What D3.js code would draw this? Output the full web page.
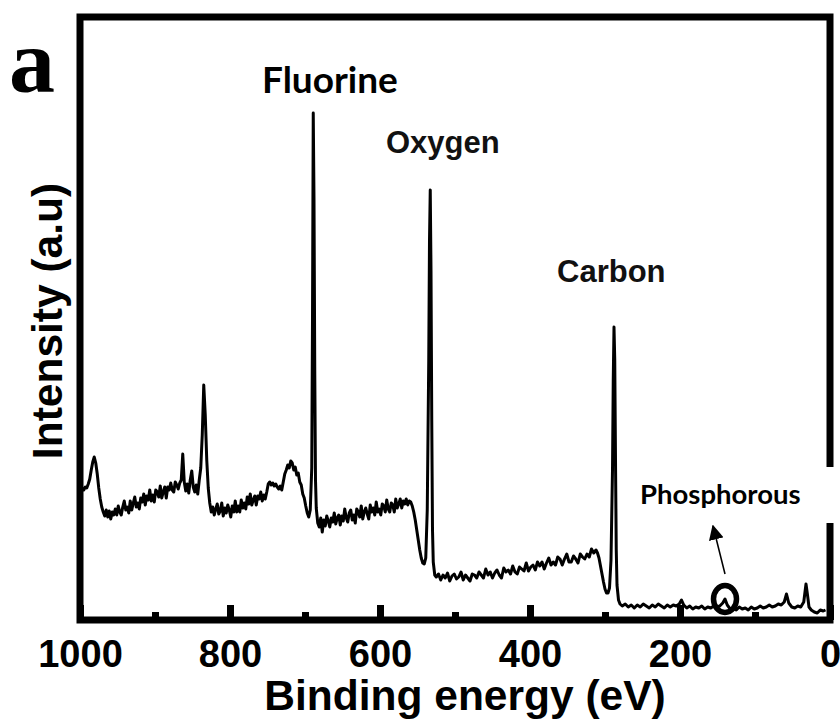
<!DOCTYPE html>
<html>
<head>
<meta charset="utf-8">
<script src="https://cdn.jsdelivr.net/npm/d3@7"></script>
<style>
  html, body { margin: 0; padding: 0; background: #fff; }
  svg { display: block; }
</style>
</head>
<body>
<svg id="chart" width="840" height="719"></svg>
<script>
// XPS survey spectrum: [binding energy (eV), intensity (a.u.)]
const spectrum = [
  [997,132],[995,130],[993,133],[991,132],[989,136],[987,141],[985,150],[983,158],[981,163],[979,157],
  [977,146],[975,132],[973,121],[971,113],[969,108],[967,104],[965,110],[963,103],[961,109],[959,101],
  [957,108],[955,105],
  [953,111],[951,105],[949,114],[947,108],[945,105],[943,113],[941,119],[939,110],[937,113],[935,107],
  [933,119],[931,110],[929,117],[927,123],[925,113],[923,117],[921,111],[919,122],[917,118],[915,126],
  [913,115],[911,124],[909,120],[907,130],[905,119],[903,125],[901,118],[899,130],[897,128],[895,123],
  [893,134],[891,122],[889,128],[887,133],[885,122],[883,133],[881,130],[879,137],[877,130],[875,128],
  [873,138],[871,135],[869,131],[867,137],[865,140],[863,166],[861,138],[859,129],
  [857,136],[855,127],[853,140],[851,149],[849,133],[847,128],[845,135],[843,126],[841,140],[839,152],
  [837,185],[835,235],[833,205],[831,160],[829,132],[827,117],[825,108],
  [823,113],[821,105],[819,111],[817,116],[815,106],[813,109],[811,117],[809,104],[807,112],[805,107],
  [803,115],[801,110],[799,103],[797,114],[795,108],[793,119],[791,108],[789,114],[787,108],[785,120],
  [783,112],[781,117],[779,111],[777,123],[775,116],[773,126],[771,115],[769,120],[767,124],[765,115],
  [763,124],[761,121],[759,128],[757,119],[755,125],[753,121],[751,128],[749,136],[747,138],[745,135],
  [743,137],[741,134],[739,136],[737,133],[735,131],[733,134],[731,130],[729,138],[727,146],[725,150],
  [723,155],[721,152],[719,159],[717,157],[715,150],[713,153],[711,145],[709,147],[707,138],[705,135],
  [703,126],[701,122],[699,114],[697,107],[695,103],[693,110],[691,152],[690,300],[689,507],[688,420],
  [687,250],[686,140],[685,112],[683,97],[681,93],
  [679,102],[677,88],[675,100],[673,94],[671,104],[669,99],[667,93],[665,102],[663,98],[661,107],
  [659,96],[657,102],[655,105],[653,95],[651,104],[649,99],[647,111],[645,102],[643,98],[641,107],
  [639,110],[637,100],[635,105],[633,97],[631,111],[629,108],[627,103],[625,114],[623,101],[621,108],
  [619,112],[617,106],[615,101],[613,115],[611,108],[609,112],[607,105],[605,118],[603,108],[601,111],
  [599,105],[597,116],[595,114],[593,108],[591,120],[589,111],[587,108],[585,117],[583,115],[581,108],
  [579,121],[577,112],[575,116],[573,121],[571,112],[569,119],[567,116],[565,121],[563,115],[561,119],
  [559,118],[557,114],[555,108],[553,100],[551,90],[549,80],[547,70],[545,62],[543,57],[541,56],
  [539,62],[537,110],[535,260],[534,380],[533,430],[532,350],[531,200],[530,90],[529,58],[527,45],
  [525,43],[522,46],[519,40],[516,45],[513,42],[510,47],[507,39],[504,44],[501,46],[498,41],
  [495,43],[492,48],[489,40],[486,45],[483,42],[480,39],[477,46],[474,45],[471,42],[468,48],
  [465,45],[462,42],[459,51],[456,45],[453,48],[450,42],[447,47],[444,50],[441,45],[438,42],
  [435,52],[432,48],[429,50],[426,46],[423,54],[420,48],[417,46],[414,53],[411,51],[408,49],
  [405,57],[402,49],[399,53],[396,55],[393,50],[390,58],[387,54],[384,58],[381,51],[378,57],
  [375,62],[372,55],[369,58],[366,55],[363,63],[360,61],[357,55],[354,61],[351,66],[348,58],
  [345,58],[342,64],[339,61],[336,57],[333,66],[330,63],[327,61],[324,66],[321,63],[318,71],
  [315,67],[312,70],[310,67],[308,62],[306,54],[304,46],[302,38],[300,31],[298,27],[296,27],
  [294,32],[292,60],[290,150],[289,240],[288,293],[287,260],[286,160],[285,70],[284,35],[282,20],
  [280,16],
  [277,14],[273,16],[269,13],[265,15],[261,12],[257,15],[253,13],[249,16],[245,14],[241,12],
  [237,15],[233,13],[229,16],[225,14],[221,12],[217,15],[213,13],[209,15],[205,14],[201,16],
  [198,20],[195,15],[191,12],[187,14],[183,11],[179,13],[175,12],[171,14],[167,11],[163,13],
  [159,12],[155,14],[151,13],[147,14],[143,17],[140,21],[137,15],[133,11],[129,12],[125,10],
  [121,13],[117,11],[113,12],[109,10],[105,13],[101,11],[97,12],[93,14],[89,12],[85,13],
  [81,15],[77,13],[73,14],[69,16],[65,15],[61,18],[58,26],[55,17],[51,13],[47,12],
  [43,14],[39,13],[35,18],[32,36],[30,25],[28,13],[25,10],[21,8],[17,7],[13,10],[9,9],[6,10]
];

const majorTicks = [1000, 800, 600, 400, 200, 0];
const minorTicks = [900, 700, 500, 300, 100];
const elementLabels = ["Fluorine", "Oxygen", "Carbon", "Phosphorous"];
const phosphorusMark = [140, 21];   // P 2p region that is circled

const svg = d3.select("#chart");

const plotLeft = 80, plotRight = 830, plotTop = 17, plotBottom = 620;

const x = d3.scaleLinear().domain([1000, 0]).range([plotLeft, plotRight]);
const y = d3.scaleLinear().domain([0, 600]).range([plotBottom, plotBottom - 600]);

const sans = "'Liberation Sans', Arial, Helvetica, sans-serif";
const humanist = "Lato, 'Open Sans', sans-serif";

// spectrum trace
const line = d3.line().x(d => x(d[0])).y(d => y(d[1]));
svg.append("path")
  .datum(spectrum)
  .attr("d", line)
  .attr("fill", "none")
  .attr("stroke", "#000")
  .attr("stroke-width", 3)
  .attr("stroke-linejoin", "round");

// inward tick stubs on the bottom axis
const minorAxis = d3.axisBottom(x).tickValues(minorTicks).tickSize(-8).tickFormat("");
const majorAxis = d3.axisBottom(x).tickValues(majorTicks).tickSize(-15).tickPadding(20)
  .tickFormat(d3.format("d"));

const gMinor = svg.append("g").attr("transform", `translate(0,${plotBottom})`).call(minorAxis);
const gMajor = svg.append("g").attr("transform", `translate(0,${plotBottom})`).call(majorAxis);
[gMinor, gMajor].forEach(g => {
  g.select(".domain").remove();
  g.selectAll(".tick line").attr("stroke", "#000").attr("stroke-width", 7);
});
gMajor.selectAll(".tick text")
  .attr("fill", "#000")
  .attr("font-family", sans)
  .attr("font-weight", "bold")
  .attr("font-size", 38)
  .attr("dy", 0)
  .attr("y", 47);

// white label box for the phosphorus annotation
svg.append("rect")
  .attr("x", 630).attr("y", 467).attr("width", 210).attr("height", 56)
  .attr("fill", "#fff");

// plot frame
svg.append("rect")
  .attr("x", plotLeft).attr("y", plotTop)
  .attr("width", plotRight - plotLeft).attr("height", plotBottom - plotTop)
  .attr("fill", "none")
  .attr("stroke", "#000")
  .attr("stroke-width", 7);

// the annotation box sits over the right edge of the frame
svg.append("rect")
  .attr("x", 826).attr("y", 467).attr("width", 14).attr("height", 56)
  .attr("fill", "#fff");

// circle and arrow pointing at the phosphorus signal
const px = x(phosphorusMark[0]), py = y(phosphorusMark[1]);
svg.append("ellipse")
  .attr("cx", px).attr("cy", py)
  .attr("rx", 11.5).attr("ry", 13.5)
  .attr("fill", "none").attr("stroke", "#000").attr("stroke-width", 5.5);

svg.append("defs").append("marker")
  .attr("id", "arrowhead")
  .attr("viewBox", "0 0 10 10")
  .attr("refX", 9).attr("refY", 5)
  .attr("markerWidth", 15).attr("markerHeight", 15)
  .attr("markerUnits", "userSpaceOnUse")
  .attr("orient", "auto")
  .append("path")
  .attr("d", "M0,0 L10,5 L0,10 Z")
  .attr("fill", "#000");

svg.append("line")
  .attr("x1", px).attr("y1", py - 25)
  .attr("x2", px - 12).attr("y2", py - 73)
  .attr("stroke", "#000").attr("stroke-width", 1.5)
  .attr("marker-end", "url(#arrowhead)");

// element labels
svg.append("text").text(elementLabels[0])
  .attr("x", 262).attr("y", 93)
  .attr("font-family", humanist).attr("font-weight", "bold").attr("font-size", 37)
  .attr("fill", "#000");
svg.append("text").text(elementLabels[1])
  .attr("x", 386).attr("y", 153)
  .attr("font-family", sans).attr("font-weight", "bold").attr("font-size", 31)
  .attr("fill", "#111");
svg.append("text").text(elementLabels[2])
  .attr("x", 557).attr("y", 282)
  .attr("font-family", sans).attr("font-weight", "bold").attr("font-size", 31)
  .attr("fill", "#111");
svg.append("text").text(elementLabels[3])
  .attr("x", 640).attr("y", 504)
  .attr("font-family", humanist).attr("font-weight", "bold").attr("font-size", 27.5)
  .attr("fill", "#000");

// panel letter
svg.append("text").text("a")
  .attr("x", 9).attr("y", 92)
  .attr("font-family", "'Liberation Serif', 'Times New Roman', serif")
  .attr("font-weight", "bold").attr("font-size", 92)
  .attr("fill", "#000");

// axis titles
svg.append("text").text("Binding energy (eV)")
  .attr("x", 465).attr("y", 710)
  .attr("text-anchor", "middle")
  .attr("font-family", sans).attr("font-weight", "bold").attr("font-size", 42.5)
  .attr("fill", "#000");
svg.append("text").text("Intensity (a.u)")
  .attr("transform", "translate(62,321) rotate(-90)")
  .attr("text-anchor", "middle")
  .attr("font-family", sans).attr("font-weight", "bold").attr("font-size", 42.5)
  .attr("fill", "#000");
</script>
</body>
</html>
